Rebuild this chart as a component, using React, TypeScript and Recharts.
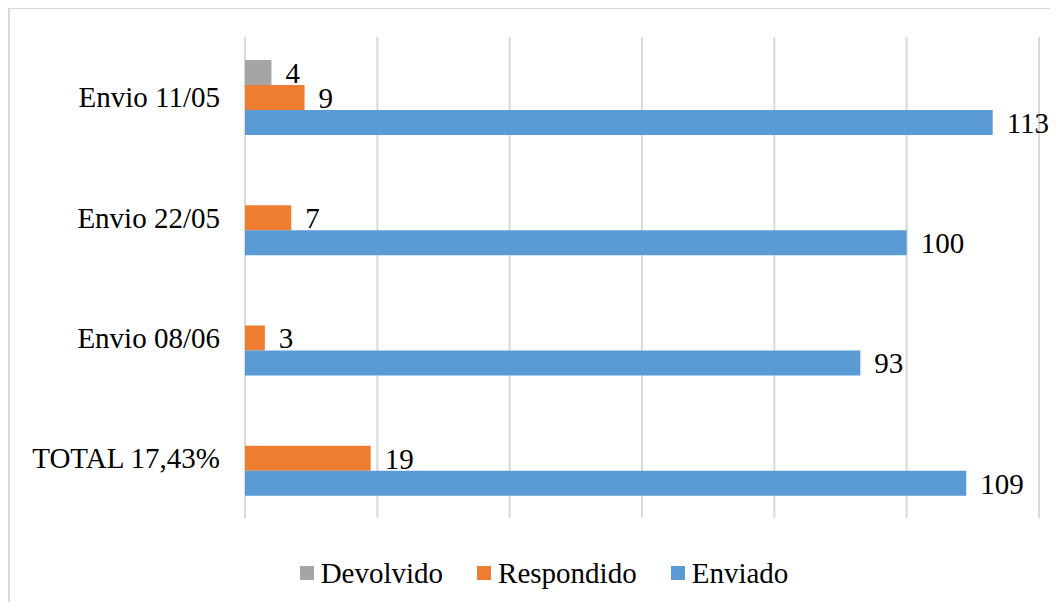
import { Bar, BarChart, CartesianGrid, LabelList, Legend, XAxis, YAxis } from "recharts"

const categories = ["Envio 11/05", "Envio 22/05", "Envio 08/06", "TOTAL 17,43%"]
const devolvido = [4, null, null, null]
const respondido = [9, 7, 3, 19]
const enviado = [113, 100, 93, 109]
const xTicks = [0, 20, 40, 60, 80, 100, 120]
const seriesNames = ["Devolvido", "Respondido", "Enviado"]
const seriesColors = ["#a5a5a5", "#ed7d31", "#5b9bd5"]

const data = categories.map((name, i) => ({
  name,
  devolvido: devolvido[i],
  respondido: respondido[i],
  enviado: enviado[i],
}))

const font = "'Liberation Serif', 'Times New Roman', serif"
const fmt = (v: any) => (v == null ? "" : v)

const renderLegend = () => (
  <div
    style={{
      display: "flex",
      justifyContent: "center",
      height: 34,
      lineHeight: "34px",
      fontFamily: font,
      fontSize: 29,
      color: "#000",
      paddingLeft: 39,
    }}
  >
    {seriesNames.map((n, i) => (
      <span key={n} style={{ display: "flex", alignItems: "center", marginLeft: i === 0 ? 0 : 34 }}>
        <span style={{ width: 14, height: 14, background: seriesColors[i], marginRight: 7, display: "inline-block" }} />
        {n}
      </span>
    ))}
  </div>
)

const labelStyle = { fill: "#000", fontSize: 29, fontFamily: font }

export default function App() {
  return (
    <div
      style={{
        width: 1048,
        height: 593,
        borderTop: "2px solid #d9d9d9",
        borderLeft: "2px solid #d9d9d9",
        marginTop: -1,
        background: "#fff",
        fontFamily: font,
      }}
    >
      <BarChart
        width={1048}
        height={593}
        data={data}
        layout="vertical"
        margin={{ top: 28, right: 19, bottom: 50, left: 0 }}
        barSize={25}
        barGap={0}
        style={{ fontFamily: font }}
      >
        <CartesianGrid horizontal={false} stroke="#d9d9d9" strokeWidth={2} />
        <XAxis type="number" domain={[0, 120]} ticks={xTicks} hide />
        <YAxis
          type="category"
          dataKey="name"
          width={235}
          axisLine={false}
          tickLine={false}
          tickSize={0}
          tickMargin={25}
          tick={{ fill: "#000", fontSize: 29, fontFamily: font }}
        />
        <Legend verticalAlign="bottom" content={renderLegend} wrapperStyle={{ bottom: 12 }} />
        <Bar dataKey="devolvido" name="Devolvido" fill={seriesColors[0]} isAnimationActive={false}>
          <LabelList dataKey="devolvido" position="right" offset={14} formatter={fmt} style={labelStyle} fill="#000" fontSize={29} fontFamily={font} />
        </Bar>
        <Bar dataKey="respondido" name="Respondido" fill={seriesColors[1]} isAnimationActive={false}>
          <LabelList dataKey="respondido" position="right" offset={14} formatter={fmt} style={labelStyle} fill="#000" fontSize={29} fontFamily={font} />
        </Bar>
        <Bar dataKey="enviado" name="Enviado" fill={seriesColors[2]} isAnimationActive={false}>
          <LabelList dataKey="enviado" position="right" offset={14} formatter={fmt} style={labelStyle} fill="#000" fontSize={29} fontFamily={font} />
        </Bar>
      </BarChart>
    </div>
  )
}
